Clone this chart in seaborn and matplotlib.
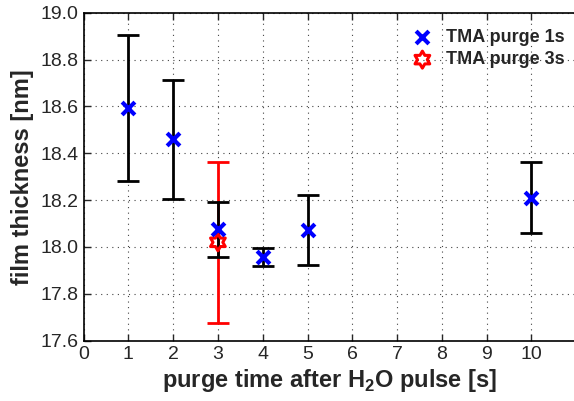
import numpy as np
import pandas as pd
import matplotlib
matplotlib.use("Agg")
import matplotlib.pyplot as plt
import seaborn as sns
from matplotlib.path import Path

# data
x_1s = [1, 2, 3, 4, 5, 10]
y_1s = [18.595, 18.46, 18.077, 17.958, 18.074, 18.21]
lo_1s = [18.28, 18.205, 17.957, 17.917, 17.924, 18.06]
hi_1s = [18.906, 18.714, 18.193, 17.996, 18.223, 18.363]

x_3s = [3]
y_3s = [18.02]
lo_3s = [17.676]
hi_3s = [18.363]

xticks = list(range(0, 11))
yticks = [17.6, 17.8, 18.0, 18.2, 18.4, 18.6, 18.8, 19.0]

sns.set_style("white")
plt.rcParams['font.family'] = ['Liberation Sans', 'DejaVu Sans']
plt.rcParams['mathtext.fontset'] = 'custom'
plt.rcParams['mathtext.bf'] = 'Liberation Sans:bold'
plt.rcParams['mathtext.rm'] = 'Liberation Sans'

fig = plt.figure(figsize=(5.74, 4.01), dpi=100)
ax = fig.add_axes([0.1455, 0.1504, 0.8585, 0.8179])

# hexagram marker
ang = np.deg2rad(90 + np.arange(12) * 30)
rad = np.where(np.arange(12) % 2 == 0, 1.0, 1 / np.sqrt(3))
verts = np.column_stack([rad * np.cos(ang), rad * np.sin(ang)])
verts = np.vstack([verts, verts[:1]])
codes = [Path.MOVETO] + [Path.LINETO] * 11 + [Path.CLOSEPOLY]
hexagram = Path(verts, codes)

df1 = pd.DataFrame({"x": x_1s, "y": y_1s})
df3 = pd.DataFrame({"x": x_3s, "y": y_3s})

# red series first
y3 = np.array(y_3s)
ax.errorbar(x_3s, y_3s, yerr=[y3 - np.array(lo_3s), np.array(hi_3s) - y3],
            fmt='none', ecolor='red', elinewidth=2, capsize=8, capthick=2, zorder=2)
y1 = np.array(y_1s)
ax.errorbar(x_1s, y_1s, yerr=[y1 - np.array(lo_1s), np.array(hi_1s) - y1],
            fmt='none', ecolor='black', elinewidth=2, capsize=8, capthick=2, zorder=3)

sns.scatterplot(data=df3, x="x", y="y", ax=ax, marker=hexagram, s=150,
                facecolors='none', edgecolor='red', linewidth=2.2, zorder=4,
                label='TMA purge 3s')
sns.scatterplot(data=df1, x="x", y="y", ax=ax, marker='x', s=85,
                color='blue', linewidth=3, zorder=5, label='TMA purge 1s')

ax.set_xlim(0, 11)
ax.set_ylim(17.6, 19.0)
ax.set_xticks(xticks)
ax.set_yticks(yticks)
ax.set_yticklabels([f"{v:.1f}" for v in yticks])
ax.tick_params(axis='both', which='major', labelsize=14, direction='in',
               top=True, right=False, bottom=True, left=True, length=5, width=1)
ax.grid(True, linestyle=(0, (1, 4)), color='#444444', linewidth=0.8)
for s in ['left', 'bottom', 'top']:
    ax.spines[s].set_color('black')
    ax.spines[s].set_linewidth(1.2)
ax.spines['right'].set_visible(False)

ax.set_xlabel(r"purge time after H$_\mathbf{2}$O pulse [s]", fontsize=17,
              fontweight='bold', labelpad=3)
ax.set_ylabel("film thickness [nm]", fontsize=17, fontweight='bold', labelpad=5)

handles, labels = ax.get_legend_handles_labels()
order = [labels.index('TMA purge 1s'), labels.index('TMA purge 3s')]
leg = ax.legend([handles[i] for i in order], [labels[i] for i in order],
                loc='upper right', bbox_to_anchor=(1.009, 1.0), frameon=False,
                prop={'size': 13, 'weight': 'bold'}, handletextpad=0.3,
                labelspacing=0.3, borderaxespad=0.5)

fig.savefig("out.png", dpi=100)
